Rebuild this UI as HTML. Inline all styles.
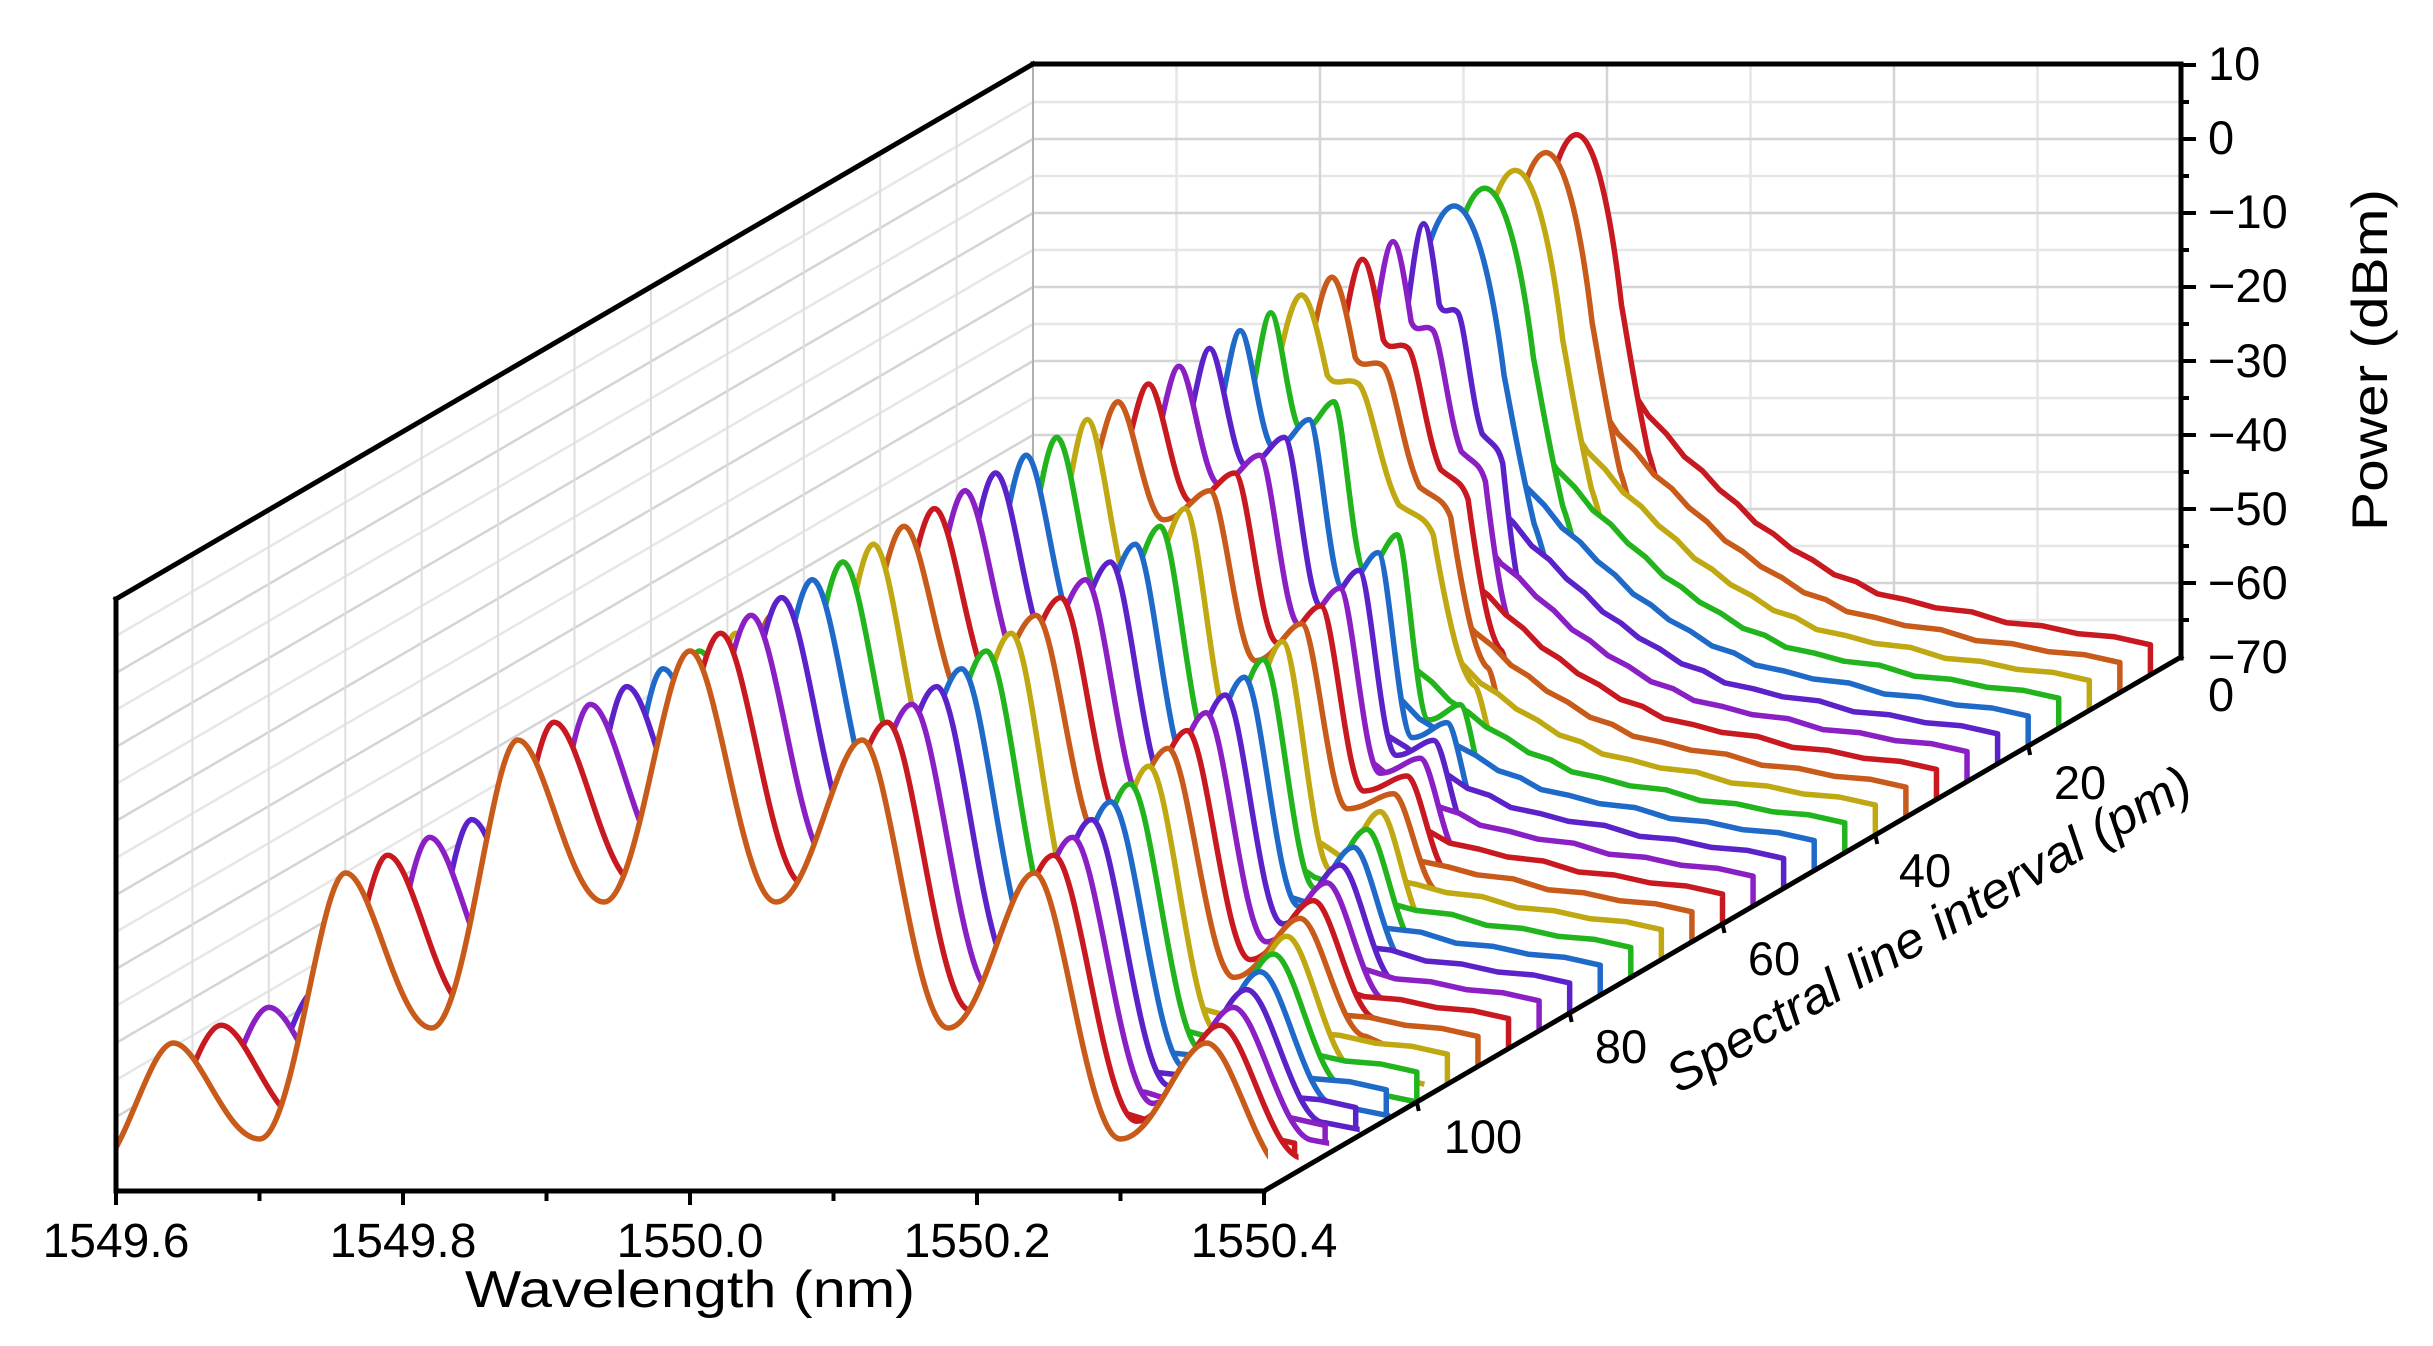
<!DOCTYPE html>
<html><head><meta charset="utf-8">
<style>
html,body{margin:0;padding:0;background:#fff;}
svg{display:block;font-family:"Liberation Sans",Arial,sans-serif;}
</style></head>
<body>
<svg width="2433" height="1346" viewBox="0 0 2433 1346" xmlns="http://www.w3.org/2000/svg" xmlns:xlink="http://www.w3.org/1999/xlink">
<defs>
<clipPath id="cp" clipPathUnits="userSpaceOnUse"><rect x="116" y="0" width="1152" height="1346"/></clipPath>
<path id="A1" fill="#fff" stroke-width="5.5" vector-effect="non-scaling-stroke" stroke-linejoin="round" d="M-4,0 L-3.5,-15 C-3.3,-15 -3.15,-148 -3,-148 C-2.85,-148 -2.7,-52 -2.5,-52 C-2.3,-52 -2.15,-318 -2,-318 C-1.85,-318 -1.7,-163 -1.5,-163 C-1.3,-163 -1.15,-451 -1,-451 C-0.85,-451 -0.7,-289 -0.5,-289 C-0.3,-289 -0.15,-540 0,-540 C0.15,-540 0.3,-289 0.5,-289 C0.7,-289 0.85,-451 1,-451 C1.15,-451 1.3,-163 1.5,-163 C1.7,-163 1.85,-318 2,-318 C2.15,-318 2.3,-52 2.5,-52 C2.7,-52 2.85,-148 3,-148 C3.15,-148 3.3,-15 3.5,-15 L4,0"/>
<path id="A2" fill="#fff" stroke-width="5.5" vector-effect="non-scaling-stroke" stroke-linejoin="round" d="M-4,0 L-3.5,-30 C-3.3,-30 -3.15,-148 -3,-148 C-2.85,-148 -2.7,-89 -2.5,-89 C-2.3,-89 -2.15,-318 -2,-318 C-1.85,-318 -1.7,-222 -1.5,-222 C-1.3,-222 -1.15,-451 -1,-451 C-0.85,-451 -0.7,-355 -0.5,-355 C-0.3,-355 -0.15,-540 0,-540 C0.15,-540 0.3,-355 0.5,-355 C0.7,-355 0.85,-451 1,-451 C1.15,-451 1.3,-222 1.5,-222 C1.7,-222 1.85,-318 2,-318 C2.15,-318 2.3,-89 2.5,-89 C2.7,-89 2.85,-148 3,-148 C3.15,-148 3.3,-30 3.5,-30 L4,0"/>
<path id="B" fill="#fff" stroke-width="5.5" vector-effect="non-scaling-stroke" stroke-linejoin="round" d="M-4,0 L-3.5,-50 C-3.3,-50 -3.15,-148 -3,-148 C-2.85,-148 -2.7,-133 -2.5,-133 C-2.3,-133 -2.15,-318 -2,-318 C-1.85,-318 -1.7,-281 -1.5,-281 C-1.3,-281 -1.15,-451 -1,-451 C-0.85,-451 -0.7,-422 -0.5,-422 C-0.3,-422 -0.15,-540 0,-540 C0.15,-540 0.3,-422 0.5,-422 C0.7,-422 0.85,-451 1,-451 C1.15,-451 1.3,-281 1.5,-281 C1.7,-281 1.85,-318 2,-318 C2.15,-318 2.3,-133 2.5,-133 C2.7,-133 2.85,-148 3,-148 C3.15,-148 3.3,-50 3.5,-50 L4,0"/>
<path id="C" fill="#fff" stroke-width="5.5" vector-effect="non-scaling-stroke" stroke-linejoin="round" d="M-4.2,0 C-3.9,-20 -3.7,-50 -3.5,-60 C-3.3,-75 -3.15,-148 -3,-150 C-2.8,-160 -2.6,-200 -2.3,-300 C-2.15,-320 -2,-318 -1.7,-330 C-1.4,-360 -1.2,-440 -1,-451 C-0.8,-460 -0.6,-445 -0.45,-460 C-0.3,-500 -0.15,-540 0,-540 C0.15,-540 0.3,-500 0.45,-460 C0.6,-445 0.8,-460 1,-451 C1.2,-440 1.4,-360 1.7,-330 C2,-318 2.15,-320 2.3,-300 C2.6,-200 2.8,-160 3,-150 C3.15,-148 3.3,-75 3.5,-60 C3.7,-50 3.9,-20 4.2,0"/>
<path id="D" fill="#fff" stroke-width="5.5" vector-effect="non-scaling-stroke" stroke-linejoin="round" d="M-4,0 C-3.5,0 -3.3,-50 -3,-74 C-2.6,-130 -2.3,-190 -2,-222 C-1.6,-290 -1.4,-340 -1.25,-370 C-0.9,-480 -0.45,-540 0,-540 C0.45,-540 0.9,-480 1.25,-370 C1.4,-340 1.6,-290 2,-222 C2.3,-190 2.6,-130 3,-74 C3.3,-50 3.5,0 4,0"/>
<path id="T" fill="#fff" stroke-width="5.5" stroke-linejoin="round" d="M690,1191 L690,821 L708,850 L726,880 L744,904 L762,932 L780,950 L798,973 L816,987 L833,1006 L851,1020 L869,1039 L887,1050 L905,1065 L926,1076 L948,1091 L970,1098 L991,1110 L1020,1116 L1049,1124 L1085,1128 L1120,1139 L1156,1142 L1192,1150 L1228,1153 L1264,1161 L1264,1191"/>
</defs>
<rect width="2433" height="1346" fill="#fff"/>
<g stroke-width="2.5">
  <g stroke="#e6e6e6">
    <line x1="1033" y1="620" x2="2181" y2="620"/><line x1="1033" y1="546" x2="2181" y2="546"/><line x1="1033" y1="472" x2="2181" y2="472"/><line x1="1033" y1="398" x2="2181" y2="398"/><line x1="1033" y1="324" x2="2181" y2="324"/><line x1="1033" y1="250" x2="2181" y2="250"/><line x1="1033" y1="176" x2="2181" y2="176"/><line x1="1033" y1="102" x2="2181" y2="102"/>
    <line x1="116" y1="1154" x2="1033" y2="620"/><line x1="116" y1="1080" x2="1033" y2="546"/><line x1="116" y1="1006" x2="1033" y2="472"/><line x1="116" y1="932" x2="1033" y2="398"/><line x1="116" y1="858" x2="1033" y2="324"/><line x1="116" y1="784" x2="1033" y2="250"/><line x1="116" y1="710" x2="1033" y2="176"/><line x1="116" y1="636" x2="1033" y2="102"/>
    <line x1="1176.5" y1="64" x2="1176.5" y2="658"/><line x1="1463.5" y1="64" x2="1463.5" y2="658"/><line x1="1750.5" y1="64" x2="1750.5" y2="658"/><line x1="2037.5" y1="64" x2="2037.5" y2="658"/>
  </g>
  <g stroke="#d4d4d4">
    <line x1="1033" y1="583" x2="2181" y2="583"/><line x1="1033" y1="509" x2="2181" y2="509"/><line x1="1033" y1="435" x2="2181" y2="435"/><line x1="1033" y1="361" x2="2181" y2="361"/><line x1="1033" y1="287" x2="2181" y2="287"/><line x1="1033" y1="213" x2="2181" y2="213"/><line x1="1033" y1="139" x2="2181" y2="139"/>
    <line x1="116" y1="1117" x2="1033" y2="583"/><line x1="116" y1="1043" x2="1033" y2="509"/><line x1="116" y1="969" x2="1033" y2="435"/><line x1="116" y1="895" x2="1033" y2="361"/><line x1="116" y1="821" x2="1033" y2="287"/><line x1="116" y1="747" x2="1033" y2="213"/><line x1="116" y1="673" x2="1033" y2="139"/>
    <line x1="1320" y1="64" x2="1320" y2="658"/><line x1="1607" y1="64" x2="1607" y2="658"/><line x1="1894" y1="64" x2="1894" y2="658"/>
  </g>
  <g stroke="#dedede" stroke-width="2">
    <line x1="192.4" y1="1146.5" x2="192.4" y2="554.5"/><line x1="268.8" y1="1102" x2="268.8" y2="510"/><line x1="345.3" y1="1057.5" x2="345.3" y2="465.5"/><line x1="421.7" y1="1013" x2="421.7" y2="421"/><line x1="498.1" y1="968.5" x2="498.1" y2="376.5"/><line x1="574.5" y1="924" x2="574.5" y2="332"/><line x1="650.9" y1="879.5" x2="650.9" y2="287.5"/><line x1="727.4" y1="835" x2="727.4" y2="243"/><line x1="803.8" y1="790.5" x2="803.8" y2="198.5"/><line x1="880.2" y1="746" x2="880.2" y2="154"/><line x1="956.6" y1="701.5" x2="956.6" y2="109.5"/>
  </g>
  <line x1="1033" y1="64" x2="1033" y2="658" stroke="#b0b0b0" stroke-width="2"/>
</g>

<g>
<g transform="translate(886.43,-516.2)"><g clip-path="url(#cp)"><use xlink:href="#T" stroke="#c81820"/><use xlink:href="#D" transform="translate(690,1191) scale(36,1)" stroke="#c81820"/></g></g>
<g transform="translate(855.87,-498.4)"><g clip-path="url(#cp)"><use xlink:href="#T" stroke="#c85a1a"/><use xlink:href="#D" transform="translate(690,1191) scale(37,1)" stroke="#c85a1a"/></g></g>
<g transform="translate(825.3,-480.6)"><g clip-path="url(#cp)"><use xlink:href="#T" stroke="#bfa812"/><use xlink:href="#D" transform="translate(690,1191) scale(38,1)" stroke="#bfa812"/></g></g>
<g transform="translate(794.73,-462.8)"><g clip-path="url(#cp)"><use xlink:href="#T" stroke="#22b41c"/><use xlink:href="#D" transform="translate(690,1191) scale(39,1)" stroke="#22b41c"/></g></g>
<g transform="translate(764.17,-445)"><g clip-path="url(#cp)"><use xlink:href="#T" stroke="#1f6ac8"/><use xlink:href="#D" transform="translate(690,1191) scale(40,1)" stroke="#1f6ac8"/></g></g>
<g transform="translate(733.6,-427.2)"><g clip-path="url(#cp)"><use xlink:href="#T" stroke="#5a22c8"/><use xlink:href="#C" transform="translate(690,1191) scale(34.44,1)" stroke="#5a22c8"/></g></g>
<g transform="translate(703.03,-409.4)"><g clip-path="url(#cp)"><use xlink:href="#T" stroke="#8a1fc4"/><use xlink:href="#C" transform="translate(690,1191) scale(40.18,1)" stroke="#8a1fc4"/></g></g>
<g transform="translate(672.47,-391.6)"><g clip-path="url(#cp)"><use xlink:href="#T" stroke="#c81820"/><use xlink:href="#C" transform="translate(690,1191) scale(45.92,1)" stroke="#c81820"/></g></g>
<g transform="translate(641.9,-373.8)"><g clip-path="url(#cp)"><use xlink:href="#T" stroke="#c85a1a"/><use xlink:href="#C" transform="translate(690,1191) scale(51.66,1)" stroke="#c85a1a"/></g></g>
<g transform="translate(611.33,-356)"><g clip-path="url(#cp)"><use xlink:href="#T" stroke="#bfa812"/><use xlink:href="#C" transform="translate(690,1191) scale(57.4,1)" stroke="#bfa812"/></g></g>
<g transform="translate(580.77,-338.2)"><g clip-path="url(#cp)"><use xlink:href="#T" stroke="#22b41c"/><use xlink:href="#B" transform="translate(690,1191) scale(63.14,1)" stroke="#22b41c"/></g></g>
<g transform="translate(550.2,-320.4)"><g clip-path="url(#cp)"><use xlink:href="#T" stroke="#1f6ac8"/><use xlink:href="#B" transform="translate(690,1191) scale(68.88,1)" stroke="#1f6ac8"/></g></g>
<g transform="translate(519.63,-302.6)"><g clip-path="url(#cp)"><use xlink:href="#T" stroke="#5a22c8"/><use xlink:href="#B" transform="translate(690,1191) scale(74.62,1)" stroke="#5a22c8"/></g></g>
<g transform="translate(489.07,-284.8)"><g clip-path="url(#cp)"><use xlink:href="#T" stroke="#8a1fc4"/><use xlink:href="#B" transform="translate(690,1191) scale(80.36,1)" stroke="#8a1fc4"/></g></g>
<g transform="translate(458.5,-267)"><g clip-path="url(#cp)"><use xlink:href="#T" stroke="#c81820"/><use xlink:href="#B" transform="translate(690,1191) scale(86.1,1)" stroke="#c81820"/></g></g>
<g transform="translate(427.93,-249.2)"><g clip-path="url(#cp)"><use xlink:href="#T" stroke="#c85a1a"/><use xlink:href="#B" transform="translate(690,1191) scale(91.84,1)" stroke="#c85a1a"/></g></g>
<g transform="translate(397.37,-231.4)"><g clip-path="url(#cp)"><use xlink:href="#T" stroke="#bfa812"/><use xlink:href="#A2" transform="translate(690,1191) scale(97.58,1)" stroke="#bfa812"/></g></g>
<g transform="translate(366.8,-213.6)"><g clip-path="url(#cp)"><use xlink:href="#T" stroke="#22b41c"/><use xlink:href="#A2" transform="translate(690,1191) scale(103.32,1)" stroke="#22b41c"/></g></g>
<g transform="translate(336.23,-195.8)"><g clip-path="url(#cp)"><use xlink:href="#T" stroke="#1f6ac8"/><use xlink:href="#A2" transform="translate(690,1191) scale(109.06,1)" stroke="#1f6ac8"/></g></g>
<g transform="translate(305.67,-178)"><g clip-path="url(#cp)"><use xlink:href="#T" stroke="#5a22c8"/><use xlink:href="#A2" transform="translate(690,1191) scale(114.8,1)" stroke="#5a22c8"/></g></g>
<g transform="translate(275.1,-160.2)"><g clip-path="url(#cp)"><use xlink:href="#T" stroke="#8a1fc4"/><use xlink:href="#A2" transform="translate(690,1191) scale(120.54,1)" stroke="#8a1fc4"/></g></g>
<g transform="translate(244.53,-142.4)"><g clip-path="url(#cp)"><use xlink:href="#T" stroke="#c81820"/><use xlink:href="#A2" transform="translate(690,1191) scale(126.28,1)" stroke="#c81820"/></g></g>
<g transform="translate(213.97,-124.6)"><g clip-path="url(#cp)"><use xlink:href="#T" stroke="#c85a1a"/><use xlink:href="#A2" transform="translate(690,1191) scale(132.02,1)" stroke="#c85a1a"/></g></g>
<g transform="translate(183.4,-106.8)"><g clip-path="url(#cp)"><use xlink:href="#T" stroke="#bfa812"/><use xlink:href="#A1" transform="translate(690,1191) scale(137.76,1)" stroke="#bfa812"/></g></g>
<g transform="translate(152.83,-89)"><g clip-path="url(#cp)"><use xlink:href="#T" stroke="#22b41c"/><use xlink:href="#A1" transform="translate(690,1191) scale(143.5,1)" stroke="#22b41c"/></g></g>
<g transform="translate(122.27,-71.2)"><g clip-path="url(#cp)"><use xlink:href="#T" stroke="#1f6ac8"/><use xlink:href="#A1" transform="translate(690,1191) scale(149.24,1)" stroke="#1f6ac8"/></g></g>
<g transform="translate(91.7,-53.4)"><g clip-path="url(#cp)"><use xlink:href="#T" stroke="#5a22c8"/><use xlink:href="#A1" transform="translate(690,1191) scale(154.98,1)" stroke="#5a22c8"/></g></g>
<g transform="translate(61.13,-35.6)"><g clip-path="url(#cp)"><use xlink:href="#T" stroke="#8a1fc4"/><use xlink:href="#A1" transform="translate(690,1191) scale(160.72,1)" stroke="#8a1fc4"/></g></g>
<g transform="translate(30.57,-17.8)"><g clip-path="url(#cp)"><use xlink:href="#T" stroke="#c81820"/><use xlink:href="#A1" transform="translate(690,1191) scale(166.46,1)" stroke="#c81820"/></g></g>
<g><g clip-path="url(#cp)"><use xlink:href="#T" stroke="#c85a1a"/><use xlink:href="#A1" transform="translate(690,1191) scale(172.2,1)" stroke="#c85a1a"/></g></g>
</g>

<g stroke="#000" stroke-width="5" fill="none" stroke-linecap="square">
  <line x1="116" y1="599" x2="1033" y2="64"/>
  <line x1="1033" y1="64" x2="2181" y2="64"/>
  <line x1="2181" y1="64" x2="2181" y2="658"/>
  <line x1="116" y1="599" x2="116" y2="1191"/>
  <line x1="116" y1="1191" x2="1264" y2="1191"/>
  <line x1="1264" y1="1191" x2="2181" y2="657"/>
</g>
<g stroke="#000" stroke-width="4">
  <line x1="2181" y1="65" x2="2196" y2="65"/><line x1="2181" y1="102" x2="2189" y2="102"/>
  <line x1="2181" y1="139" x2="2196" y2="139"/><line x1="2181" y1="176" x2="2189" y2="176"/>
  <line x1="2181" y1="213" x2="2196" y2="213"/><line x1="2181" y1="250" x2="2189" y2="250"/>
  <line x1="2181" y1="287" x2="2196" y2="287"/><line x1="2181" y1="324" x2="2189" y2="324"/>
  <line x1="2181" y1="361" x2="2196" y2="361"/><line x1="2181" y1="398" x2="2189" y2="398"/>
  <line x1="2181" y1="435" x2="2196" y2="435"/><line x1="2181" y1="472" x2="2189" y2="472"/>
  <line x1="2181" y1="509" x2="2196" y2="509"/><line x1="2181" y1="546" x2="2189" y2="546"/>
  <line x1="2181" y1="583" x2="2196" y2="583"/><line x1="2181" y1="620" x2="2189" y2="620"/>
  <line x1="116" y1="1191" x2="116" y2="1205"/><line x1="259.5" y1="1191" x2="259.5" y2="1201"/>
  <line x1="403" y1="1191" x2="403" y2="1205"/><line x1="546.5" y1="1191" x2="546.5" y2="1201"/>
  <line x1="690" y1="1191" x2="690" y2="1205"/><line x1="833.5" y1="1191" x2="833.5" y2="1201"/>
  <line x1="977" y1="1191" x2="977" y2="1205"/><line x1="1120.5" y1="1191" x2="1120.5" y2="1201"/>
  <line x1="1264" y1="1191" x2="1264" y2="1205"/>
  <line x1="1416.8" y1="1102" x2="1418.8" y2="1111"/><line x1="1569.7" y1="1013" x2="1571.7" y2="1022"/>
  <line x1="1722.5" y1="924" x2="1724.5" y2="933"/><line x1="1875.3" y1="835" x2="1877.3" y2="844"/>
  <line x1="2028.2" y1="746" x2="2030.2" y2="755"/>
</g>
<g font-size="48" fill="#000" text-anchor="middle">
  <text x="116" y="1257">1549.6</text>
  <text x="403" y="1257">1549.8</text>
  <text x="690" y="1257">1550.0</text>
  <text x="977" y="1257">1550.2</text>
  <text x="1264" y="1257">1550.4</text>
</g>
<text x="690" y="1307" font-size="52" text-anchor="middle" textLength="450" lengthAdjust="spacingAndGlyphs">Wavelength (nm)</text>
<g font-size="47" fill="#000" text-anchor="start">
  <text x="2208" y="80">10</text>
  <text x="2208" y="154">0</text>
  <text x="2208" y="228">−10</text>
  <text x="2208" y="302">−20</text>
  <text x="2208" y="377">−30</text>
  <text x="2208" y="451">−40</text>
  <text x="2208" y="525">−50</text>
  <text x="2208" y="599">−60</text>
  <text x="2208" y="673">−70</text>
  <text x="2208" y="711">0</text>
</g>
<text transform="translate(2387,360) rotate(-90)" font-size="50" text-anchor="middle" textLength="342" lengthAdjust="spacingAndGlyphs">Power (dBm)</text>
<g font-size="47" fill="#000" text-anchor="middle">
  <text x="2080" y="799">20</text>
  <text x="1925" y="887">40</text>
  <text x="1774" y="975">60</text>
  <text x="1621" y="1063">80</text>
  <text x="1483" y="1153">100</text>
</g>
<text transform="translate(1937,944) rotate(-30.2)" font-size="50" font-style="italic" text-anchor="middle" textLength="598" lengthAdjust="spacingAndGlyphs">Spectral line interval (pm)</text>
</svg>
</body></html>
